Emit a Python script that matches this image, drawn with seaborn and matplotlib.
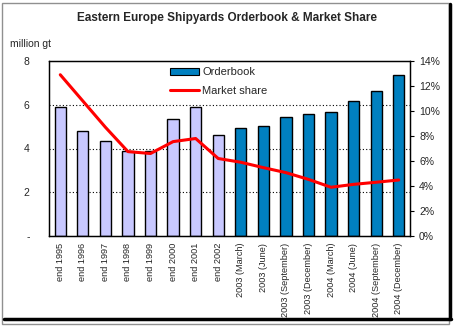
import matplotlib
matplotlib.use("Agg")
import matplotlib.pyplot as plt
import seaborn as sns
import pandas as pd
from matplotlib.patches import Patch, Rectangle
from matplotlib.lines import Line2D
from matplotlib.ticker import FixedLocator, FuncFormatter

categories = ["end 1995", "end 1996", "end 1997", "end 1998", "end 1999", "end 2000",
              "end 2001", "end 2002", "2003 (March)", "2003 (June)", "2003 (September)",
              "2003 (December)", "2004 (March)", "2004 (June)", "2004 (September)",
              "2004 (December)"]
orderbook = [5.9, 4.8, 4.35, 3.88, 3.88, 5.33, 5.9, 4.64, 4.96, 5.05, 5.42, 5.56, 5.65, 6.18, 6.65, 7.38]
market_share = [12.9, 10.8, 8.7, 6.75, 6.6, 7.55, 7.8, 6.2, 5.9, 5.47, 5.07, 4.53, 3.9, 4.13, 4.3, 4.48]
left_ticks = [0, 2, 4, 6, 8]
left_labels = ["-", "2", "4", "6", "8"]
right_ticks = [0, 2, 4, 6, 8, 10, 12, 14]

sns.set_style("white")
plt.rcParams["font.family"] = ["Liberation Sans", "DejaVu Sans"]

light = "#C8C8FF"
dark = "#0080C0"
colors = [light] * 8 + [dark] * 8

df = pd.DataFrame({"cat": categories, "orderbook": orderbook, "share": market_share})

fig = plt.figure(figsize=(4.54, 3.26), dpi=100)
ax = fig.add_axes([49/454, 1-236/326, (410-49)/454, (236-61)/326])

sns.barplot(data=df, x="cat", y="orderbook", hue="cat", palette=colors, legend=False,
            edgecolor="black", linewidth=1.0, width=0.5, saturation=1, ax=ax)
ax.set_ylim(0, 8)
ax.set_xlim(-0.5, len(categories) - 0.5)
ax.set_xlabel("")
ax.set_ylabel("")
for y in [2, 4, 6]:
    ax.axhline(y, color="black", linestyle=(0, (1, 2)), linewidth=0.8, zorder=0)
ax.set_yticks(left_ticks)
ax.set_yticklabels(left_labels, fontsize=7.5)
ax.tick_params(axis="y", length=0, pad=14)
ax.set_xticks(range(len(categories)))
ax.set_xticklabels(categories, rotation=90, fontsize=6.6)
ax.tick_params(axis="x", length=0, pad=5)
ax.xaxis.set_minor_locator(FixedLocator([i - 0.5 for i in range(len(categories) + 1)]))
ax.tick_params(axis="x", which="minor", length=3, direction="out", color="black")
for s in ax.spines.values():
    s.set_color("black")
    s.set_linewidth(0.9)

ax2 = ax.twinx()
sns.lineplot(data=df, x="cat", y="share", color="#FF0000", linewidth=2.2, ax=ax2, sort=False)
ax2.set_ylim(0, 14)
ax2.set_yticks(right_ticks)
ax2.yaxis.set_major_formatter(FuncFormatter(lambda v, p: f"{int(v)}%"))
ax2.tick_params(axis="y", labelsize=7.5, length=3, direction="out", color="black")
ax2.set_ylabel("")
ax2.set_xlabel("")
ax2.set_xlim(-0.5, len(categories) - 0.5)
for s in ax2.spines.values():
    s.set_color("black")
    s.set_linewidth(0.9)

handles = [Patch(facecolor=dark, edgecolor="black", linewidth=0.8),
           Line2D([0], [0], color="#FF0000", linewidth=2.2)]
ax2.legend(handles, ["Orderbook", "Market share"], loc="upper left",
           bbox_to_anchor=(0.31, 1.015), frameon=False, fontsize=8,
           handlelength=2.6, handleheight=0.6, labelspacing=0.75, borderpad=0.3,
           handletextpad=0.3)

fig.text(0.5, 1 - 18/326, "Eastern Europe Shipyards Orderbook & Market Share",
         ha="center", va="center", fontsize=8.5, fontweight="bold")
fig.text(10/454, 1 - 44/326, "million gt", ha="left", va="center", fontsize=7.5)

fig.patches.append(Rectangle((2/454, 2/326), 447/454, 321/326, transform=fig.transFigure,
                             fill=False, edgecolor="#909090", linewidth=1.0))
fig.add_artist(Line2D([450/454, 450/454], [1 - 319/326, 1 - 4/326], transform=fig.transFigure,
                      color="black", linewidth=2.5))
fig.add_artist(Line2D([4/454, 451/454], [1 - 319/326, 1 - 319/326], transform=fig.transFigure,
                      color="black", linewidth=2.5))

fig.savefig("out.png", dpi=100)
